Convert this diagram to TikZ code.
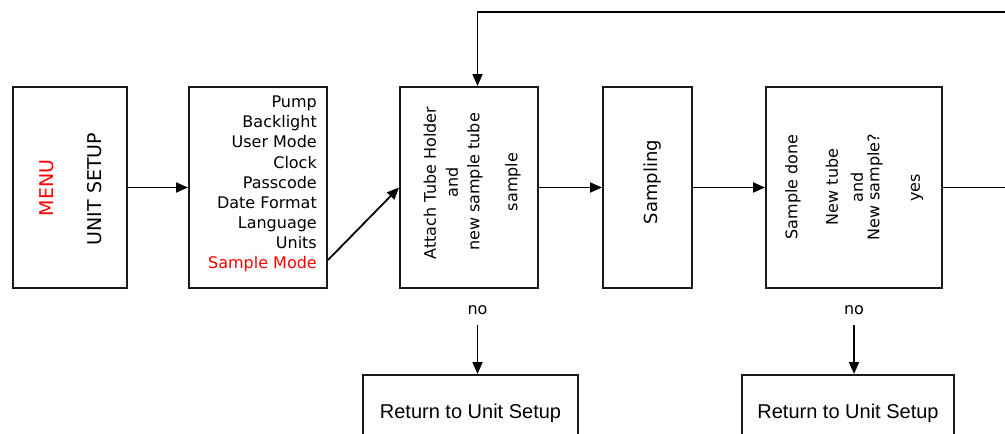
\documentclass[tikz,border=0pt]{standalone}
\usepackage{fontspec}
\setmainfont{DejaVu Sans}
\newfontfamily\retfont{Liberation Sans}
\usetikzlibrary{arrows.meta,calc}
\begin{document}
\begin{tikzpicture}[x=1pt,y=-1pt,
  box/.style={draw=black!90, line width=2pt, inner sep=0pt},
  conn/.style={line width=1.8pt, -{Triangle[length=12pt,width=10pt]}},
  txt/.style={font=\fontsize{16}{20.1}\selectfont, inner sep=0pt},
  vtxt/.style={txt, rotate=90},
  bigv/.style={font=\fontsize{19}{22}\selectfont, inner sep=0pt, rotate=90}]
\useasboundingbox (0,0) rectangle (1005,434);
\clip (0,0) rectangle (1005,434);
% boxes
\node[box, minimum width=114pt, minimum height=201pt] (menu) at (70,187.5) {};
\node[box, minimum width=138pt, minimum height=201pt] (list) at (258,187.5) {};
\node[box, minimum width=138pt, minimum height=201pt] (attach) at (469,187.5) {};
\node[box, minimum width=89pt, minimum height=201pt] (sampling) at (647.5,187.5) {};
\node[box, minimum width=176pt, minimum height=201pt] (done) at (854,187.5) {};
\node[box, minimum width=215pt, minimum height=76pt, font=\retfont\fontsize{20}{24}\selectfont] (ret1) at (470.5,413) {Return to Unit Setup};
\node[box, minimum width=212pt, minimum height=76pt, font=\retfont\fontsize{20}{24}\selectfont] (ret2) at (848,413) {Return to Unit Setup};
% texts
\node[bigv, text=red] (menut) at (47,188) {MENU};
\node[bigv] (unitt) at (95,189) {UNIT SETUP};
\node[txt, align=right, anchor=east] (listt) at (317,184) {Pump\\Backlight\\User Mode\\Clock\\Passcode\\Date Format\\Language\\Units\\\textcolor{red}{Sample Mode}};
\node[vtxt] (at1) at (430,183) {Attach Tube Holder};
\node[vtxt] (at2) at (452,182) {and};
\node[vtxt] (at3) at (475,182) {new sample tube};
\node[vtxt] (at4) at (513,182) {sample};
\node[vtxt, font=\fontsize{18}{22}\selectfont] (samt) at (653,182) {Sampling};
\node[vtxt] (d1) at (793,187) {Sample done};
\node[vtxt] (d2) at (832,187) {New tube};
\node[vtxt] (d3) at (857,187) {and};
\node[vtxt] (d4) at (875,187) {New sample?};
\node[vtxt] (d5) at (917,188) {yes};
\node[txt] (no1) at (477.5,310) {no};
\node[txt] (no2) at (854,310) {no};
% connectors
\draw[conn] (menu.east) -- (list.west);
\draw[conn] ([yshift=-72.5pt]list.east) -- (attach.west);
\draw[conn] (attach.east) -- (sampling.west);
\draw[conn] (sampling.east) -- (done.west);
\coordinate (farR) at (1015,187.5);
\coordinate (farTop) at (1015,12);
\coordinate (topin) at ([xshift=8.5pt]attach.north);
\draw[conn] (done.east) -- (farR) -- (farTop) -- (topin |- farTop) -- (topin);
\draw[conn, shorten <=10pt] (no1.south) -- (no1.south |- ret1.north);
\draw[conn, shorten <=10pt] (no2.south) -- (no2.south |- ret2.north);
\end{tikzpicture}
\end{document}
